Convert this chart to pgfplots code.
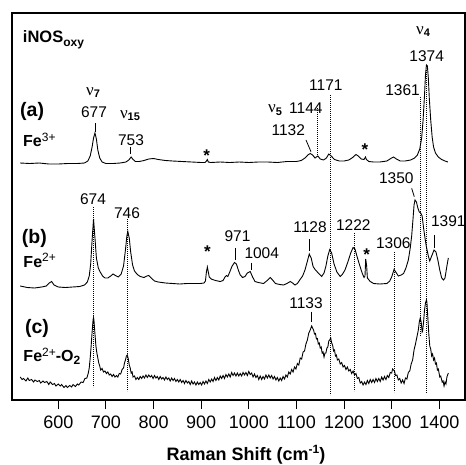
\documentclass[border=0pt]{standalone}
\usepackage{pgfplots}
\pgfplotsset{compat=1.18}
\usepackage{fontspec}
\setmainfont{Liberation Sans}
\newfontfamily\grk{Liberation Serif}
\newcommand{\fs}[1]{\fontsize{#1}{#1}\selectfont}
\newcommand{\nulab}[1]{{\grk\fs{17}ν}{\fs{11}\bfseries\raisebox{-2.4pt}{#1}}}
\newcommand{\pk}[1]{{\fs{15.5}#1}}
\begin{document}
\begin{tikzpicture}
\useasboundingbox (0,0) rectangle (466pt,464pt);
\begin{axis}[
  at={(12pt,64pt)}, anchor=south west,
  width=453pt, height=387pt, scale only axis,
  xmin=502.8, xmax=1454, ymin=13, ymax=400, y dir=reverse,
  clip=false,
  axis line style={line width=1.1pt},
  xtick={600,700,...,1400}, ytick=\empty,
  xtick pos=bottom, tick align=outside,
  major tick length=9pt,
  every tick/.style={black, line width=1pt},
  /pgf/number format/assume math mode=true,
  /pgf/number format/1000 sep={},
  xticklabel style={font=\fs{18}, yshift=-3pt},
]
% trace (a) Fe3+
\addplot[black, line width=0.9pt] table {
520 163
540 163.5
560 163
580 164
600 164
620 163.5
640 163.5
655 163
662 161
667 156
671 147
674 138
677 133
680 139
683 150
687 158
692 162
700 163.5
715 163.5
730 163
742 162
748 160
753 157
757 159.5
762 161.5
770 161.5
780 160.5
790 159
800 158.5
810 159.5
825 160.5
840 161
860 161.5
880 162
900 162.5
908 162.5
911 161
913 159.5
915 162
920 162.5
940 162
960 162.5
980 162
1000 162.5
1020 162
1040 162
1060 162.5
1080 161.5
1100 161.5
1110 160.5
1118 158
1124 155
1129 153.5
1134 155
1139 158
1142 157
1145 156
1150 159
1157 160
1163 158
1168 154
1173 156
1180 159.5
1190 161
1200 161
1210 160
1218 157.5
1225 154.5
1230 156
1236 159
1242 159.5
1245 157
1247 159.5
1252 161.5
1262 162
1275 162
1290 161
1298 158.5
1304 157
1310 159
1318 161
1328 161
1340 160
1348 158
1354 155
1359 149
1363 138
1366 120
1369 95
1371 75
1373 65
1375 66
1377 78
1379 98
1382 120
1385 137
1388 147
1392 153
1398 157
1405 159.5
1412 161
1418 162
};
% trace (b) Fe2+
\addplot[black, line width=0.9pt] table {
520 286
535 287.5
550 288
565 287
575 286
581 283
586 281.5
591 285
600 287
615 287.5
630 287
645 286.5
655 285
661 282
665 276
668 264
671 240
674 219
677 238
680 258
684 268
688 272
693 276
698 278
704 278
710 276
715 274
720 275.5
726 277
732 274
737 266
741 250
744 236
746 231.5
749 238
752 252
756 265
760 271
766 274.5
772 276.5
780 277.5
786 276
790 275.5
795 278
802 281
810 282
825 283
840 283.5
855 284
870 283.5
885 283.5
898 283.5
906 283
909 281
911 272
913 267
915 272
917 277
921 279
930 280.5
940 281.5
946 280.5
950 277
953 275.5
956 276.5
960 272
965 266
970 262.5
974 264
978 270
982 275
987 277.5
992 276.5
997 273
1003 271.5
1008 277
1013 281.5
1020 282.5
1031 283.5
1040 280
1045 277.5
1050 280
1056 283.5
1065 284.5
1073 285
1080 283.5
1087 281.5
1092 283
1097 285
1102 283.5
1107 280
1113 276
1118 270
1122 263
1127 254
1131 258
1135 266.5
1140 270
1143 271.5
1148 274
1153 276.5
1158 273
1162 266
1166 256
1170 249.5
1174 253
1179 264
1185 272
1192 276.5
1197 274
1202 270
1208 262
1214 253
1219 247.5
1223 249
1227 256
1232 264
1238 273
1242 277.5
1244 276
1245.5 259
1247.5 266
1249 278
1255 281.5
1262 283.5
1275 284
1290 283.5
1296 281
1300 277
1305 269.5
1310 273
1314 276
1320 275
1325 273.5
1330 268
1335 260
1339 248
1342 236
1345 218
1347 205
1349 200
1352 202
1355 208
1358 212
1361 213
1364 216
1367 228
1370 238
1373 247
1377 256
1380 261
1384 256
1389 250
1393 252
1397 260
1401 270
1405 278
1409 280
1412 278
1416 266
1419 258
};
% trace (c) Fe2+-O2
\addplot[black, line width=0.9pt] table {
520 377
524 379.5
527 378.5
532 381
536 378
539 380.5
544 379.5
548 382
551 380
556 381.5
560 380.5
563 383
568 381
571 382.5
576 381.5
580 384.5
583 382
588 384.5
592 383.5
595 386
600 384
604 386
607 384.5
612 387.5
616 385.5
619 387.5
624 385.5
628 387
631 384.5
636 386.5
640 384
643 385
648 382
652 382.5
656 378.5
660 378
663 373
665 368
667 358
669 346
671 332
673 320
674 317.5
675 321
677 334
679 346
681 353
683 358
685 363
687 366
689 370
692 368.5
695 372
698 371
701 373.5
704 372
707 375
710 374
713 376.5
716 374.5
719 377
722 375.5
725 377
728 373.5
731 374
734 369.5
737 368
739 363
741 360
743 356
745 355
747 359
749 365
751 368
753 373
755 372
757 377
760 376
763 379.5
766 377.5
769 379.5
772 376.5
775 378.5
778 376
781 378
784 375
787 377.5
790 375
793 377
796 375.5
799 378.5
802 375.5
805 378
808 376.5
811 379.5
814 376.5
817 379
820 377.5
823 380
826 377
829 379.5
832 378
835 381
838 378
841 380.5
844 378.5
847 381.5
850 379.5
853 382
856 379.5
859 382.5
862 380.5
865 383.5
868 380.5
871 383
874 381.5
877 384.5
880 381
883 384
886 382
889 385
892 382
895 384.5
898 382.5
901 385
904 381.5
907 384
910 381
913 383.5
916 379.5
919 382
922 379
925 381.5
928 377.5
931 380.5
934 377.5
937 380
940 376
943 378.5
946 375.5
949 378.5
952 374.5
955 377
958 374
961 377
964 372.5
967 375.5
970 373
973 376
976 373
979 376
982 373.5
985 376
988 372.5
991 375
994 372.5
997 375.5
1000 371.5
1003 374.5
1006 373
1009 377
1012 374
1015 377.5
1018 375.5
1021 379.5
1024 376
1027 379.5
1030 376.5
1033 379
1036 375
1039 378
1042 375
1045 378
1048 375.5
1051 379
1054 376.5
1057 380
1060 377.5
1063 381
1066 378
1069 380.5
1072 376.5
1075 379
1078 375
1081 377
1084 372
1087 374
1090 369.5
1093 372
1096 367
1099 369
1102 363.5
1105 365
1108 358
1111 359
1114 352
1117 351
1120 344
1123 340
1126 333
1129 330
1132 326
1134 328
1136 330
1138 334
1140 333.5
1142 339
1144 338.5
1146 344
1148 343
1150 348
1152 347
1154 353
1156 352
1158 357
1160 353
1162 353
1164 348
1166 347
1168 341
1170 340
1172 338
1174 343
1176 345
1178 351
1180 350
1182 356
1184 355
1186 360
1189 359
1192 364
1195 362.5
1198 367
1201 365.5
1204 369.5
1207 367
1210 371
1213 369.5
1216 373.5
1219 371
1222 375
1225 373.5
1228 378.5
1231 377.5
1234 383
1237 381.5
1240 385
1243 382
1246 384.5
1249 380.5
1252 383.5
1255 379.5
1258 382.5
1261 379.5
1264 382.5
1267 378.5
1270 381.5
1273 378.5
1276 381.5
1279 377
1282 380
1285 376.5
1288 379.5
1291 375.5
1294 377.5
1297 372.5
1300 373
1302 369
1304 370
1306 371
1308 375.5
1311 375
1314 380
1317 378.5
1320 383
1323 380
1326 383.5
1329 378
1332 379
1335 372.5
1338 371
1341 364
1344 360
1347 350
1350 344
1353 337
1356 330
1358 322
1360 318
1362 322
1364 332
1365 331
1367 322
1369 310
1371 303
1373 300
1374 302
1376 318
1378 334
1380 346
1382 349
1384 356
1386 354
1388 360
1390 358
1392 364
1394 363
1396 370
1398 369
1401 377
1403 376
1406 382
1408 381
1410 386
1412 382
1414 384
1416 377
1419 373
};
% dotted guide lines
\addplot[black, line width=0.6pt, dash pattern=on 0.9pt off 1.1pt] coordinates {(673.5,207) (673.5,387)};
\addplot[black, line width=0.6pt, dash pattern=on 0.9pt off 1.1pt] coordinates {(744.9,219) (744.9,391)};
\addplot[black, line width=0.6pt, dash pattern=on 0.9pt off 1.1pt] coordinates {(1143.8,108) (1143.8,157)};
\addplot[black, line width=0.6pt, dash pattern=on 0.9pt off 1.1pt] coordinates {(1170.5,95) (1170.5,395)};
\addplot[black, line width=0.6pt, dash pattern=on 0.9pt off 1.1pt] coordinates {(1221,233) (1221,391)};
\addplot[black, line width=0.6pt, dash pattern=on 0.9pt off 1.1pt] coordinates {(1305,252) (1305,392)};
\addplot[black, line width=0.6pt, dash pattern=on 0.9pt off 1.1pt] coordinates {(1359.5,97) (1359.5,336)};
\addplot[black, line width=0.6pt, dash pattern=on 0.9pt off 1.1pt] coordinates {(1373.7,70) (1373.7,393)};
% solid label ticks
\addplot[black, line width=0.8pt] coordinates {(677.6,123) (677.6,132)};
\addplot[black, line width=0.8pt] coordinates {(752,146.7) (752,154)};
\addplot[black, line width=0.8pt] coordinates {(1120.1,140) (1130.6,151.7)};
\addplot[black, line width=0.8pt] coordinates {(1342,188.3) (1347.5,196.7)};
\addplot[black, line width=0.8pt] coordinates {(971,248.3) (971,260)};
\addplot[black, line width=0.8pt] coordinates {(1004.6,262.7) (1004.6,270)};
\addplot[black, line width=0.8pt] coordinates {(1126.9,239.3) (1126.9,250.7)};
\addplot[black, line width=0.8pt] coordinates {(1389.5,235) (1389.5,248.3)};
\addplot[black, line width=0.8pt] coordinates {(1131.9,311.7) (1131.9,321.7)};
% texts
\node[anchor=base west, inner sep=0pt] at (axis cs:525.3,42.7) {\fs{16.5}\bfseries iNOS\raisebox{-3.8pt}{\fs{12}oxy}};
\node[anchor=base west, inner sep=0pt] at (axis cs:519.6,116.7) {\fs{19.5}\bfseries (a)};
\node[anchor=base west, inner sep=0pt] at (axis cs:525.9,146.7) {\fs{16}\bfseries Fe\raisebox{5.5pt}{\fs{12}\mdseries 3+}};
\node[anchor=base west, inner sep=0pt] at (axis cs:523.2,243.3) {\fs{19.5}\bfseries (b)};
\node[anchor=base west, inner sep=0pt] at (axis cs:526.5,267.3) {\fs{16}\bfseries Fe\raisebox{5.5pt}{\fs{12}\mdseries 2+}};
\node[anchor=base west, inner sep=0pt] at (axis cs:530,333) {\fs{19.5}\bfseries (c)};
\node[anchor=base west, inner sep=0pt] at (axis cs:526.5,361.7) {\fs{16}\bfseries Fe\raisebox{5.5pt}{\fs{12}\mdseries 2+}-O\raisebox{-3.2pt}{\fs{12}2}};
\node[anchor=base, inner sep=0pt] at (axis cs:673,95) {\nulab{7}};
\node[anchor=base, inner sep=0pt] at (axis cs:750.6,118.3) {\nulab{15}};
\node[anchor=base, inner sep=0pt] at (axis cs:1055,112.7) {\nulab{5}};
\node[anchor=base, inner sep=0pt] at (axis cs:1365.9,34.3) {\nulab{4}};
\node[anchor=base, inner sep=0pt] at (axis cs:675,117.3) {\pk{677}};
\node[anchor=base, inner sep=0pt] at (axis cs:752.7,145) {\pk{753}};
\node[anchor=base, inner sep=0pt] at (axis cs:1119.8,113.3) {\pk{1144}};
\node[anchor=base, inner sep=0pt] at (axis cs:1083,135) {\pk{1132}};
\node[anchor=base, inner sep=0pt] at (axis cs:1161.8,90.7) {\pk{1171}};
\node[anchor=base, inner sep=0pt] at (axis cs:1322.8,95) {\pk{1361}};
\node[anchor=base, inner sep=0pt] at (axis cs:1373.6,61) {\pk{1374}};
\node[anchor=base, inner sep=0pt] at (axis cs:1309.8,183.3) {\pk{1350}};
\node[anchor=base, inner sep=0pt] at (axis cs:673,204) {\pk{674}};
\node[anchor=base, inner sep=0pt] at (axis cs:744.3,218.3) {\pk{746}};
\node[anchor=base, inner sep=0pt] at (axis cs:976.3,241.7) {\pk{971}};
\node[anchor=base, inner sep=0pt] at (axis cs:1027.2,258.3) {\pk{1004}};
\node[anchor=base, inner sep=0pt] at (axis cs:1128.5,232.7) {\pk{1128}};
\node[anchor=base, inner sep=0pt] at (axis cs:1219.5,230.7) {\pk{1222}};
\node[anchor=base, inner sep=0pt] at (axis cs:1303.4,248.3) {\pk{1306}};
\node[anchor=base, inner sep=0pt] at (axis cs:1419,226.7) {\pk{1391}};
\node[anchor=base, inner sep=0pt] at (axis cs:1120.2,308.3) {\pk{1133}};
\node[inner sep=0pt] at (axis cs:911.6,156) {\fs{17}\bfseries *};
\node[inner sep=0pt] at (axis cs:1244,149.3) {\fs{17}\bfseries *};
\node[inner sep=0pt] at (axis cs:912.9,251.7) {\fs{17}\bfseries *};
\node[inner sep=0pt] at (axis cs:1247.6,255) {\fs{17}\bfseries *};
\node[anchor=base, inner sep=0pt] at (axis cs:994.2,460) {\fs{18}\bfseries Raman Shift (cm\raisebox{6.5pt}{\fs{12}-1})};
\end{axis}
\end{tikzpicture}
\end{document}
